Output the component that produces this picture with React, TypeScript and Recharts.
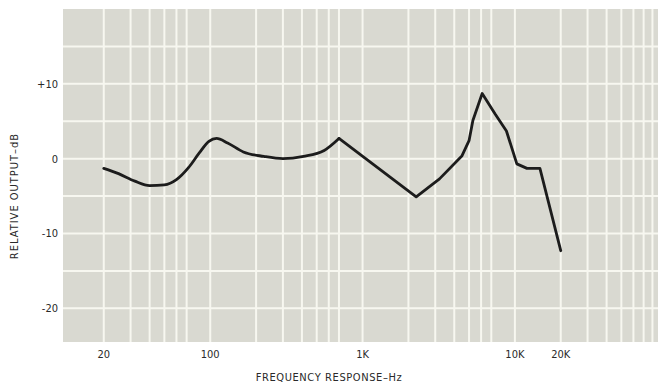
import React from "react";
import { LineChart, Line, XAxis, YAxis, CartesianGrid, Customized } from "recharts";

// response curve (Hz, relative dB)
const freqHz = [
  20, 25, 32, 40, 50, 60, 72, 85, 98, 110, 130, 165, 225, 300, 410, 560, 700,
  2250, 3200, 4500, 5000, 5300, 6100, 7400, 8800, 10300, 12000, 14600, 20000,
];
const outputDb = [
  -1.3, -2.0, -3.0, -3.6, -3.5, -2.8, -1.2, 0.8, 2.3, 2.7, 2.1, 0.9, 0.3, 0.0, 0.3, 1.1, 2.7,
  -5.1, -2.7, 0.4, 2.4, 5.1, 8.7, 6.0, 3.7, -0.7, -1.3, -1.3, -12.3,
];
// the pen trace is rounded below this frequency and straight-ruled above it
const smoothUpTo = 700;

const xTicks = [20, 100, 1000, 10000, 20000];
const xTickLabels: Record<number, string> = { 20: "20", 100: "100", 1000: "1K", 10000: "10K", 20000: "20K" };
const yTicks = [-20, -10, 0, 10];
const yTickLabels: Record<number, string> = { [-20]: "-20", [-10]: "-10", 0: "0", 10: "+10" };

// log paper rulings
const decades = [10, 100, 1000, 10000];
const vLines = decades.flatMap((d) => [1, 2, 3, 4, 5, 6, 7, 8, 9].map((m) => m * d)).filter((v) => v >= 20 && v <= 80000);
const hLines = [-20, -15, -10, -5, 0, 5, 10, 15];

const data = freqHz.map((f, i) => ({
  f,
  smooth: f <= smoothUpTo ? outputDb[i] : undefined,
  ruled: f >= smoothUpTo ? outputDb[i] : undefined,
}));

const font = "'DejaVu Sans Condensed', 'Liberation Sans Narrow', Arial, sans-serif";
const ink = "#2a2a2a";
const pen = "#1c1c1c";

const Titles = () => (
  <g fill={ink} fontFamily={font} fontSize={11}>
    <text x={329} y={381} textAnchor="middle" letterSpacing={0.6}>
      FREQUENCY RESPONSE–Hz
    </text>
    <text x={18} y={196} textAnchor="middle" letterSpacing={1} transform="rotate(-90, 18, 196)">
      RELATIVE OUTPUT–dB
    </text>
  </g>
);

export default function App() {
  return (
    <div style={{ position: "absolute", left: 0, top: 0, background: "#fff" }}>
      <LineChart width={663} height={383} data={data} margin={{ top: 9, right: 5, bottom: 0, left: 8 }}>
        <CartesianGrid
          fill="#d9d9d1"
          stroke="#f7f7f0"
          strokeWidth={2}
          verticalValues={vLines}
          horizontalValues={hLines}
        />
        <XAxis
          dataKey="f"
          type="number"
          scale="log"
          domain={[10.8, 87000]}
          ticks={xTicks}
          tickFormatter={(v: number) => xTickLabels[v] ?? ""}
          axisLine={false}
          tickLine={false}
          tickSize={0}
          tickMargin={8}
          height={41}
          allowDataOverflow
          tick={{ fill: ink, fontSize: 11, fontFamily: font }}
        />
        <YAxis
          type="number"
          domain={[-24.5, 20]}
          ticks={yTicks}
          tickFormatter={(v: number) => yTickLabels[v] ?? ""}
          axisLine={false}
          tickLine={false}
          tickSize={0}
          tickMargin={5}
          width={55}
          allowDataOverflow
          tick={{ fill: ink, fontSize: 11, fontFamily: font }}
        />
        <Line
          type="monotone"
          dataKey="smooth"
          stroke={pen}
          strokeWidth={2.8}
          strokeLinecap="round"
          dot={false}
          isAnimationActive={false}
        />
        <Line
          type="linear"
          dataKey="ruled"
          stroke={pen}
          strokeWidth={2.8}
          strokeLinejoin="round"
          strokeLinecap="round"
          dot={false}
          isAnimationActive={false}
        />
        <Customized component={Titles} />
      </LineChart>
    </div>
  );
}
